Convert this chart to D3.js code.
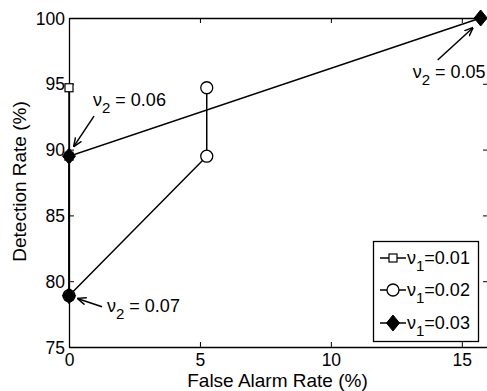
<!DOCTYPE html>
<html>
<head>
<meta charset="utf-8">
<script src="https://cdn.jsdelivr.net/npm/d3@7"></script>
<style>
  body { margin: 0; background: #fff; }
  text { font-family: "Liberation Sans", Arial, sans-serif; fill: #000; }
</style>
</head>
<body>
<div id="chart"></div>
<script>
// data
const s1X = [0, 0, 0],          s1Y = [94.7, 89.5, 78.9];   // nu1 = 0.01, squares
const s2X = [5.26, 5.26, 0],    s2Y = [94.7, 89.5, 78.9];   // nu1 = 0.02, circles
const s3X = [15.72, 0, 0],      s3Y = [100, 89.5, 78.9];    // nu1 = 0.03, diamonds
const seriesNames = ["0.01", "0.02", "0.03"];
const xTicks = [0, 5, 10, 15];
const yTicks = [75, 80, 85, 90, 95, 100];
const notes = [
  { x: 0, y: 89.5, label: "0.06" },
  { x: 15.72, y: 100, label: "0.05" },
  { x: 0, y: 78.9, label: "0.07" }
];

const W = 487, H = 391;
const svg = d3.select("#chart").append("svg")
  .attr("width", W).attr("height", H);

const x = d3.scaleLinear().domain([0, 16]).range([69, 488]);
const y = d3.scaleLinear().domain([75, 100]).range([347, 18]);

const fs = 17.5;
const tickLen = 5;

// axes, MATLAB style: ticks pointing in
const axB = d3.axisBottom(x).tickValues(xTicks).tickSizeInner(-tickLen).tickSizeOuter(0).tickPadding(7);
const axL = d3.axisLeft(y).tickValues(yTicks).tickSizeInner(-tickLen).tickSizeOuter(0).tickPadding(4);
const axT = d3.axisTop(x).tickValues(xTicks).tickSizeInner(-tickLen).tickSizeOuter(0).tickFormat("");
const axR = d3.axisRight(y).tickValues(yTicks).tickSizeInner(-tickLen).tickSizeOuter(0).tickFormat("");

function style(g) {
  g.select(".domain").attr("stroke", "#000").attr("stroke-width", 1.3);
  g.selectAll(".tick line").attr("stroke", "#000").attr("stroke-width", 1);
  g.selectAll(".tick text").style("font-size", fs + "px").attr("fill", "#000")
    .style("font-family", '"Liberation Sans", Arial, sans-serif');
}

svg.append("g").attr("transform", `translate(0,${y(100)})`).call(axT).call(style);
svg.append("g").attr("transform", `translate(${x(16)},0)`).call(axR).call(style);
svg.append("g").attr("transform", `translate(0,${y(75)})`).call(axB).call(style);
svg.append("g").attr("transform", `translate(${x(0)},0)`).call(axL).call(style)
  .selectAll(".tick text").attr("dy", "0.35em");

// axis labels
svg.append("text")
  .attr("x", 277.5).attr("y", 387)
  .attr("text-anchor", "middle").style("font-size", "19px")
  .text("False Alarm Rate (%)");
svg.append("text")
  .attr("transform", `translate(26,181.5) rotate(-90)`)
  .attr("text-anchor", "middle").style("font-size", "19px")
  .text("Detection Rate (%)");

const line = d3.line().x(d => x(d[0])).y(d => y(d[1]));
const series = [
  { xs: s1X, ys: s1Y, shape: "square" },
  { xs: s2X, ys: s2Y, shape: "circle" },
  { xs: s3X, ys: s3Y, shape: "diamond" }
];

function marker(g, shape, cx, cy) {
  if (shape === "square") {
    g.append("rect").attr("x", cx - 4).attr("y", cy - 4).attr("width", 8).attr("height", 8)
      .attr("fill", "#fff").attr("stroke", "#000").attr("stroke-width", 1.2);
  } else if (shape === "circle") {
    g.append("circle").attr("cx", cx).attr("cy", cy).attr("r", 6)
      .attr("fill", "#fff").attr("stroke", "#000").attr("stroke-width", 1.3);
  } else {
    g.append("path")
      .attr("d", `M${cx},${cy - 8}L${cx + 6.5},${cy}L${cx},${cy + 8}L${cx - 6.5},${cy}Z`)
      .attr("fill", "#000").attr("stroke", "#000").attr("stroke-width", 1);
  }
}

const plot = svg.append("g");
series.forEach(s => {
  const pts = s.xs.map((v, i) => [v, s.ys[i]]);
  plot.append("path").datum(pts).attr("d", line)
    .attr("fill", "none").attr("stroke", "#000").attr("stroke-width", 1.5);
});
series.forEach(s => {
  s.xs.forEach((v, i) => marker(plot, s.shape, x(v), y(s.ys[i])));
});

// annotations with arrows (offsets in pixels from the annotated point)
const defs = svg.append("defs");
defs.append("marker").attr("id", "arr").attr("viewBox", "0 0 10 10")
  .attr("refX", 9).attr("refY", 5).attr("markerWidth", 9).attr("markerHeight", 9)
  .attr("markerUnits", "userSpaceOnUse").attr("orient", "auto")
  .append("path").attr("d", "M0,1L10,5L0,9").attr("fill", "none")
  .attr("stroke", "#000").attr("stroke-width", 1.6);

const noteOff = [
  { tx: 24, ty: -50, a0: [25, -40], a1: [5, -10] },
  { tx: -68, ty: 60, a0: [-43, 42], a1: [-8, 10] },
  { tx: 38, ty: 16, a0: [33, 11], a1: [9, 3] }
];

notes.forEach((n, i) => {
  const o = noteOff[i];
  const px = x(n.x), py = y(n.y);
  svg.append("line")
    .attr("x1", px + o.a0[0]).attr("y1", py + o.a0[1])
    .attr("x2", px + o.a1[0]).attr("y2", py + o.a1[1])
    .attr("stroke", "#000").attr("stroke-width", 1.5).attr("marker-end", "url(#arr)");
  const t = svg.append("text").attr("x", px + o.tx).attr("y", py + o.ty)
    .style("font-size", "18px");
  t.append("tspan").text("\u03bd");
  t.append("tspan").attr("dy", 7).style("font-size", "15px").text("2");
  t.append("tspan").attr("dy", -7).text(" = " + n.label);
});

// legend
const lg = svg.append("g");
lg.append("rect").attr("x", 373.5).attr("y", 241.5).attr("width", 105).attr("height", 100)
  .attr("fill", "#fff").attr("stroke", "#000").attr("stroke-width", 1.3);
const legendY = [258, 290, 323];
series.forEach((s, i) => {
  const ly = legendY[i];
  lg.append("line").attr("x1", 380).attr("x2", 406).attr("y1", ly).attr("y2", ly)
    .attr("stroke", "#000").attr("stroke-width", 1.5);
  marker(lg, s.shape, 393, ly);
  const t = lg.append("text").attr("x", 407).attr("y", ly + 6).style("font-size", "18px");
  t.append("tspan").text("\u03bd");
  t.append("tspan").attr("dy", 7).style("font-size", "15px").text("1");
  t.append("tspan").attr("dy", -7).text("=" + seriesNames[i]);
});
</script>
</body>
</html>
